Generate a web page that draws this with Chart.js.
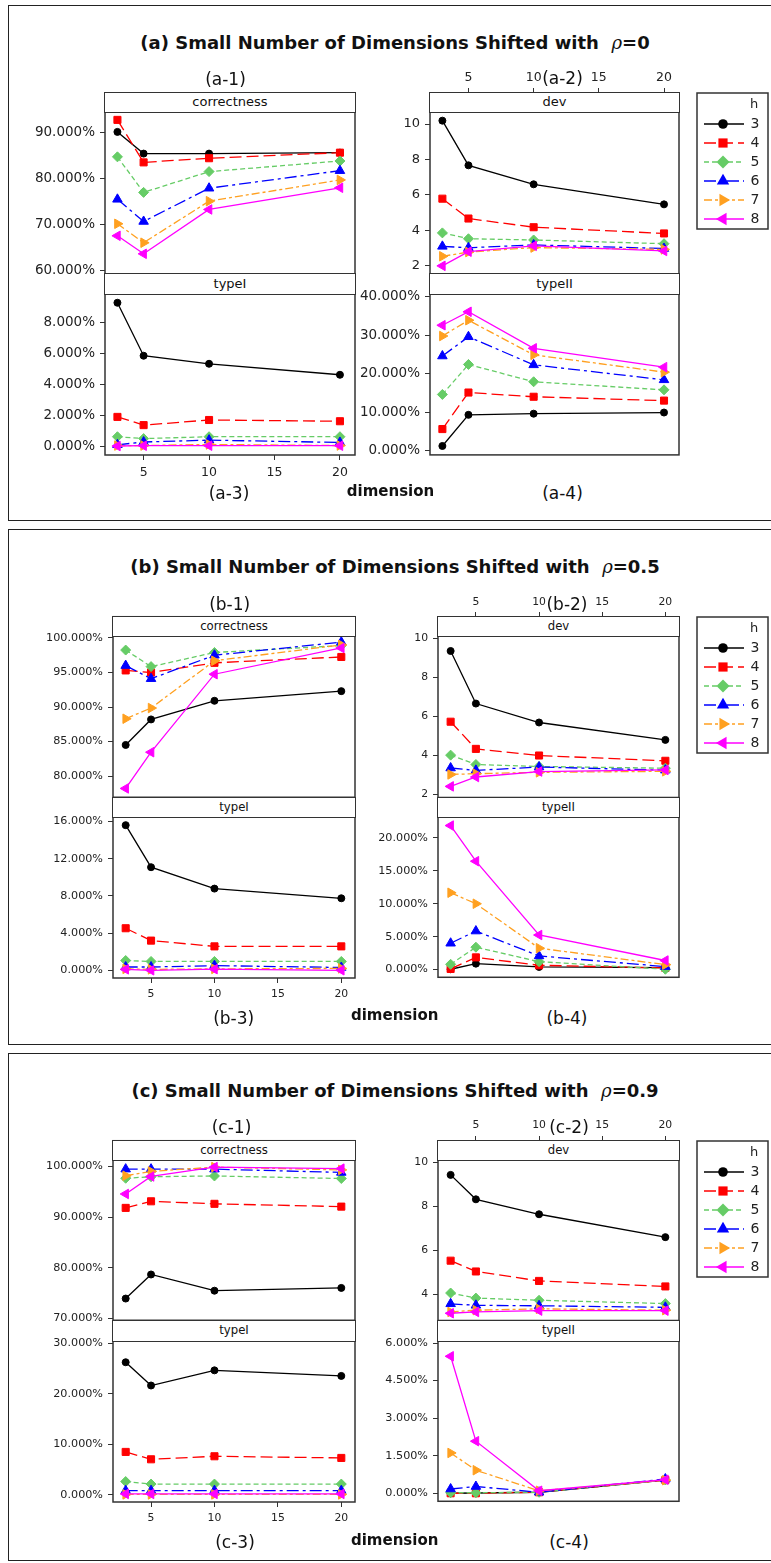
<!DOCTYPE html>
<html><head><meta charset="utf-8">
<script src="https://cdn.jsdelivr.net/npm/chart.js@4.4.1/dist/chart.umd.min.js"></script>
<style>
html,body{margin:0;padding:0;background:#fff;overflow:hidden;width:771px;height:1563px;}
body{position:relative;font-family:'DejaVu Sans',sans-serif;color:#111;}
.box{position:absolute;border:1.3px solid #222;box-sizing:border-box;}
.title{position:absolute;font-weight:bold;font-size:18px;white-space:nowrap;transform:translate(-50%,-50%);line-height:1.2;}
.rho{font-family:'DejaVu Serif',serif;font-style:italic;font-weight:normal;}
.lbl{position:absolute;white-space:nowrap;transform:translate(-50%,-50%);line-height:1.2;}
.strip{position:absolute;background:#fff;border:1.5px solid #333;box-sizing:border-box;text-align:center;overflow:hidden;}
canvas{position:absolute;}
</style></head><body>
<script>
// ---------- data ----------
const dims = [3, 5, 10, 20];
const hLevels = ['3', '4', '5', '6', '7', '8'];
const xTickVals = [5, 10, 15, 20];

// (a) rho = 0  (rows: h = 3..8, columns: dimension 3,5,10,20)
const aCorrectness = [
  [90.1, 85.4, 85.4, 85.6],
  [92.7, 83.5, 84.4, 85.6],
  [84.7, 77.0, 81.5, 83.8],
  [75.5, 70.7, 77.9, 81.7],
  [70.2, 66.1, 75.1, 79.7],
  [67.6, 63.7, 73.3, 78.0]
];
const aDev = [
  [10.19, 7.67, 6.60, 5.47],
  [5.79, 4.67, 4.18, 3.83],
  [3.86, 3.53, 3.46, 3.25],
  [3.10, 3.02, 3.18, 2.98],
  [2.54, 2.78, 3.03, 2.93],
  [2.00, 2.80, 3.13, 2.84]
];
const aTypeI = [
  [9.27, 5.85, 5.33, 4.62],
  [1.90, 1.37, 1.70, 1.62],
  [0.62, 0.50, 0.62, 0.62],
  [0.10, 0.28, 0.40, 0.25],
  [0.05, 0.05, 0.12, 0.05],
  [0.02, 0.04, 0.04, 0.04]
];
const aTypeII = [
  [1.2, 9.3, 9.6, 9.9],
  [5.6, 15.1, 14.0, 13.0],
  [14.6, 22.4, 17.9, 15.8],
  [24.6, 29.6, 22.3, 18.4],
  [29.8, 33.9, 24.9, 20.4],
  [32.6, 36.1, 26.6, 21.7]
];

// (b) rho = 0.5
const bCorrectness = [
  [84.5, 88.2, 90.9, 92.3],
  [95.3, 95.0, 96.4, 97.25],
  [98.25, 95.85, 97.9, 98.9],
  [96.0, 94.1, 97.5, 99.4],
  [88.3, 89.85, 96.7, 99.0],
  [78.2, 83.45, 94.75, 98.55]
];
const bDev = [
  [9.35, 6.66, 5.69, 4.80],
  [5.73, 4.34, 4.00, 3.73],
  [4.02, 3.54, 3.44, 3.35],
  [3.36, 3.24, 3.41, 3.25],
  [3.03, 3.07, 3.14, 3.19],
  [2.42, 2.90, 3.18, 3.26]
];
const bTypeI = [
  [15.6, 11.08, 8.78, 7.74],
  [4.52, 3.19, 2.57, 2.57],
  [1.05, 0.95, 0.95, 0.95],
  [0.35, 0.35, 0.5, 0.3],
  [0.15, 0.1, 0.15, 0.2],
  [0.1, 0.0, 0.12, 0.0]
];
const bTypeII = [
  [0.05, 0.9, 0.4, 0.3],
  [0.1, 1.85, 0.65, 0.25],
  [0.8, 3.4, 1.2, 0.05],
  [4.0, 5.85, 2.07, 0.45],
  [11.67, 10.0, 3.25, 0.75],
  [21.87, 16.46, 5.25, 1.38]
];

// (c) rho = 0.9
const cCorrectness = [
  [73.9, 78.65, 75.45, 76.0],
  [91.8, 93.1, 92.6, 92.05],
  [97.65, 97.95, 98.1, 97.6],
  [99.45, 99.45, 99.45, 98.8],
  [98.15, 99.0, 99.85, 99.3],
  [94.55, 98.0, 99.85, 99.55]
];
const cDev = [
  [9.43, 8.32, 7.64, 6.60],
  [5.53, 5.04, 4.61, 4.36],
  [4.06, 3.83, 3.73, 3.58],
  [3.57, 3.50, 3.48, 3.41],
  [3.20, 3.28, 3.34, 3.28],
  [3.14, 3.20, 3.26, 3.26]
];
const cTypeI = [
  [26.2, 21.6, 24.6, 23.5],
  [8.46, 7.0, 7.6, 7.27],
  [2.6, 2.1, 2.1, 2.1],
  [0.8, 0.8, 0.8, 0.8],
  [0.05, 0.05, 0.05, 0.05],
  [0.15, 0.15, 0.15, 0.15]
];
const cTypeII = [
  [0.0, 0.01, 0.04, 0.53],
  [0.0, 0.0, 0.04, 0.53],
  [0.02, 0.02, 0.04, 0.53],
  [0.17, 0.27, 0.04, 0.57],
  [1.61, 0.92, 0.1, 0.52],
  [5.47, 2.08, 0.1, 0.54]
];

// tick label values
const aCorrTicks = [60, 70, 80, 90];
const aDevTicks = [2, 4, 6, 8, 10];
const aTypeITicks = [0, 2, 4, 6, 8];
const aTypeIITicks = [0, 10, 20, 30, 40];
const bCorrTicks = [80, 85, 90, 95, 100];
const bDevTicks = [2, 4, 6, 8, 10];
const bTypeITicks = [0, 4, 8, 12, 16];
const bTypeIITicks = [0, 5, 10, 15, 20];
const cCorrTicks = [70, 80, 90, 100];
const cDevTicks = [4, 6, 8, 10];
const cTypeITicks = [0, 10, 20, 30];
const cTypeIITicks = [0, 1.5, 3, 4.5, 6];

// ---------- styles ----------
const FONT = "'DejaVu Sans'";
const seriesStyle = [
  {color: '#000000', dash: [], point: 'circle', rot: 0, r: 3.5},
  {color: '#ff0000', dash: [12, 5], point: 'rect', rot: 0, r: 5},
  {color: '#66cc66', dash: [5, 3], point: 'rectRot', rot: 0, r: 5},
  {color: '#0000ff', dash: [12, 4, 3, 4], point: 'triangle', rot: 0, r: 5.5},
  {color: '#ffa020', dash: [8, 3, 3, 3], point: 'triangle', rot: 90, r: 5.5},
  {color: '#ff00ff', dash: [], point: 'triangle', rot: -90, r: 5.5}
];
const pct = v => v.toFixed(3) + '%';
const num = v => String(v);

const framePlugin = {
  id: 'frame',
  afterDraw(chart) {
    const a = chart.chartArea, ctx = chart.ctx;
    ctx.save();
    ctx.strokeStyle = '#333'; ctx.lineWidth = 1.5; ctx.setLineDash([]);
    ctx.strokeRect(a.left, a.top, a.right - a.left, a.bottom - a.top);
    ctx.restore();
  }
};

function addDiv(cls, html, style) {
  const d = document.createElement('div');
  d.className = cls; d.innerHTML = html;
  Object.assign(d.style, style);
  document.body.appendChild(d);
  return d;
}

function makePanel(p) {
  const yW = 95, AX = 24, PAD = 3;
  const isTop = p.xAxis === 'top', isBot = p.xAxis === 'bottom';
  const padT = isTop ? 0 : PAD, padB = isBot ? 0 : PAD;
  const plotW = p.right - p.left, plotH = p.bottom - p.top;
  let W = yW + plotW + PAD;
  let H = padT + (isTop ? AX : 0) + plotH + (isBot ? AX : 0) + padB;
  const cv = document.createElement('canvas');
  cv.width = W; cv.height = H;
  cv.style.left = '0px'; cv.style.top = '0px';
  document.body.appendChild(cv);
  const datasets = p.data.map((row, i) => {
    const s = seriesStyle[i];
    return {
      label: 'h=' + hLevels[i],
      data: row.map((v, j) => ({x: dims[j], y: v})),
      borderColor: s.color, backgroundColor: s.color,
      borderWidth: 1.3, borderDash: s.dash,
      pointStyle: s.point, pointRotation: s.rot, pointRadius: s.r,
      pointBackgroundColor: s.color, pointBorderColor: s.color, pointBorderWidth: 1,
      tension: 0, fill: false, order: 6 - i
    };
  });
  const gridCfg = {display: true, drawOnChartArea: false, drawTicks: true, tickLength: 5, color: '#333', lineWidth: 1};
  const chart = new Chart(cv, {
    type: 'line',
    data: {datasets},
    options: {
      responsive: false, maintainAspectRatio: false, animation: false, devicePixelRatio: 1, events: [],
      layout: {autoPadding: false, padding: {left: 0, right: PAD, top: padT, bottom: padB}},
      plugins: {legend: {display: false}, tooltip: {enabled: false}},
      scales: {
        x: {
          type: 'linear', position: isTop ? 'top' : 'bottom', display: isTop || isBot,
          min: p.xMin, max: p.xMax, bounds: 'data',
          afterFit: s => { s.height = (isTop || isBot) ? AX : 0; },
          afterBuildTicks: s => { s.ticks = xTickVals.map(v => ({value: v})); },
          grid: gridCfg, border: {display: false},
          ticks: {font: {family: FONT, size: p.xFont}, color: '#222', padding: p.xPad, maxRotation: 0, autoSkip: false, callback: v => String(v)}
        },
        y: {
          type: 'linear', position: 'left', min: p.yMin, max: p.yMax, bounds: 'data',
          afterFit: s => { s.width = yW; },
          afterBuildTicks: s => { s.ticks = p.yTicks.map(v => ({value: v})); },
          grid: gridCfg, border: {display: false},
          ticks: {font: {family: FONT, size: p.yFont}, color: '#222', padding: 5, autoSkip: false, callback: v => p.fmt(v)}
        }
      }
    },
    plugins: [framePlugin]
  });
  // make the plot area exactly the wanted size
  for (let it = 0; it < 4; it++) {
    const ca = chart.chartArea;
    const dw = Math.round(plotW - (ca.right - ca.left));
    const dh = Math.round(plotH - (ca.bottom - ca.top));
    if (dw === 0 && dh === 0) break;
    W += dw; H += dh;
    chart.resize(W, H);
  }
  const ca = chart.chartArea;
  cv.style.left = (p.left - ca.left) + 'px';
  cv.style.top = (p.top - ca.top) + 'px';
  addDiv('strip', p.strip, {
    left: (p.left - 0.75) + 'px', top: (p.top - 0.75) + 'px',
    width: (plotW + 1.5) + 'px', height: (p.stripH + 1.5) + 'px',
    fontSize: p.stripFont + 'px', lineHeight: (p.stripH - 1) + 'px'
  });
}

function drawMarker(ctx, style, r, x, y) {
  ctx.beginPath();
  if (style === 'circle') {
    ctx.arc(x, y, r, 0, Math.PI * 2);
  } else if (style === 'rect') {
    const s = r * Math.SQRT1_2; ctx.rect(x - s, y - s, 2 * s, 2 * s);
  } else if (style === 'rectRot') {
    ctx.moveTo(x, y - r); ctx.lineTo(x + r, y); ctx.lineTo(x, y + r); ctx.lineTo(x - r, y); ctx.closePath();
  }
  ctx.fill();
}
function drawTri(ctx, rotDeg, r, x, y) {
  let rad = rotDeg * Math.PI / 180;
  ctx.beginPath();
  for (let k = 0; k < 3; k++) {
    const px = x + Math.sin(rad) * r, py = y - Math.cos(rad) * r;
    if (k === 0) ctx.moveTo(px, py); else ctx.lineTo(px, py);
    rad += 2 * Math.PI / 3;
  }
  ctx.closePath(); ctx.fill();
}

function drawLegend(top) {
  const ox = 690, oy = top - 5;
  const cv = document.createElement('canvas');
  cv.width = 81; cv.height = 148;
  Object.assign(cv.style, {left: ox + 'px', top: oy + 'px', width: '81px', height: '148px'});
  document.body.appendChild(cv);
  const ctx = cv.getContext('2d');
  ctx.strokeStyle = '#333'; ctx.lineWidth = 1.5;
  ctx.strokeRect(697 - ox, top - oy, 71, 136);
  ctx.fillStyle = '#222'; ctx.font = '13px ' + FONT; ctx.textAlign = 'center'; ctx.textBaseline = 'middle';
  ctx.fillText('h', 754 - ox, top + 12 - oy);
  hLevels.forEach((h, i) => {
    const y = top + 31 + i * 19 - oy, s = seriesStyle[i];
    ctx.save();
    ctx.strokeStyle = s.color; ctx.lineWidth = 1.5; ctx.setLineDash(s.dash);
    ctx.beginPath(); ctx.moveTo(704 - ox, y); ctx.lineTo(744 - ox, y); ctx.stroke();
    ctx.restore();
    ctx.fillStyle = s.color;
    if (s.point === 'triangle') drawTri(ctx, s.rot, s.r * 1.3, 723 - ox, y);
    else drawMarker(ctx, s.point, s.point === 'circle' ? 4.8 : s.r * 1.3, 723 - ox, y);
    ctx.fillStyle = '#222'; ctx.font = '14px ' + FONT;
    ctx.fillText(h, 755 - ox, y);
  });
}

// ---------- layout (positions only) ----------
const sections = [
  {
    key: 'a', box: [5, 516], titleY: 43, rho: '0',
    L: [105, 355], R: [430, 679], up: [93, 274], low: [274, 455], stripUp: 19, stripLow: 20,
    xr: [2.05, 21.15], yF: 13.5, yFd: 13, xF: 12.5, xPadTop: 3, xPadBot: 5, stripF: 13,
    panels: {
      c1: {data: aCorrectness, ticks: aCorrTicks, range: [59.35, 98.5], fmt: pct},
      c2: {data: aDev, ticks: aDevTicks, range: [1.53, 11.75], fmt: num},
      c3: {data: aTypeI, ticks: aTypeITicks, range: [-0.56, 11.12], fmt: pct},
      c4: {data: aTypeII, ticks: aTypeIITicks, range: [-1.12, 45.9], fmt: pct}
    },
    lab: {l1: [225.5, 78.5], l2: [562.5, 77.5], l3: [229, 492.5], l4: [562.5, 492.5], dim: [390.5, 491]},
    legTop: 93
  },
  {
    key: 'b', box: [529, 516], titleY: 567, rho: '0.5',
    L: [113, 355], R: [438, 679], up: [617, 798], low: [798, 978], stripUp: 19, stripLow: 19,
    xr: [2.0, 21.08], yF: 11.2, yFd: 10.8, xF: 10.8, xPadTop: 3, xPadBot: 5, stripF: 11.7,
    panels: {
      c1: {data: bCorrectness, ticks: bCorrTicks, range: [76.92, 103.08], fmt: pct},
      c2: {data: bDev, ticks: bDevTicks, range: [1.85, 11.09], fmt: num},
      c3: {data: bTypeI, ticks: bTypeITicks, range: [-0.83, 18.55], fmt: pct},
      c4: {data: bTypeII, ticks: bTypeIITicks, range: [-1.17, 26.1], fmt: pct}
    },
    lab: {l1: [229.7, 603.7], l2: [567, 603.7], l3: [233.7, 1017.5], l4: [567, 1017.5], dim: [394.7, 1015]},
    legTop: 617
  },
  {
    key: 'c', box: [1053, 508], titleY: 1091, rho: '0.9',
    L: [113, 355], R: [438, 679], up: [1141, 1321], low: [1321, 1502], stripUp: 19, stripLow: 20,
    xr: [2.0, 21.08], yF: 11.2, yFd: 10.8, xF: 10.8, xPadTop: 4, xPadBot: 5, stripF: 11.7,
    panels: {
      c1: {data: cCorrectness, ticks: cCorrTicks, range: [69.61, 105.06], fmt: pct},
      c2: {data: cDev, ticks: cDevTicks, range: [2.81, 10.97], fmt: num},
      c3: {data: cTypeI, ticks: cTypeITicks, range: [-1.45, 34.42], fmt: pct},
      c4: {data: cTypeII, ticks: cTypeIITicks, range: [-0.32, 6.89], fmt: pct}
    },
    lab: {l1: [231.5, 1127], l2: [569, 1126.5], l3: [235, 1541.5], l4: [569, 1541.5], dim: [394.7, 1539.7]},
    legTop: 1141
  }
];

sections.forEach(S => {
  addDiv('box', '', {left: '8px', top: S.box[0] + 'px', width: '800px', height: S.box[1] + 'px'});
  addDiv('title', '(' + S.key + ') Small Number of Dimensions Shifted with &nbsp;<span class="rho">ρ</span>=' + S.rho,
    {left: '395px', top: S.titleY + 'px'});
  const P = S.panels;
  const specs = [
    {k: 'c1', col: S.L, row: S.up, stripH: S.stripUp, strip: 'correctness', xAxis: null, yFont: S.yF},
    {k: 'c2', col: S.R, row: S.up, stripH: S.stripUp, strip: 'dev', xAxis: 'top', yFont: S.yFd},
    {k: 'c3', col: S.L, row: S.low, stripH: S.stripLow, strip: 'typeI', xAxis: 'bottom', yFont: S.yF},
    {k: 'c4', col: S.R, row: S.low, stripH: S.stripLow, strip: 'typeII', xAxis: null, yFont: S.yF}
  ];
  specs.forEach(sp => {
    const d = P[sp.k];
    makePanel({
      left: sp.col[0], right: sp.col[1], top: sp.row[0], bottom: sp.row[1],
      stripH: sp.stripH, strip: sp.strip, stripFont: S.stripF,
      xAxis: sp.xAxis, xMin: S.xr[0], xMax: S.xr[1], xFont: S.xF,
      xPad: sp.xAxis === 'top' ? S.xPadTop : S.xPadBot,
      yMin: d.range[0], yMax: d.range[1], yTicks: d.ticks, fmt: d.fmt, yFont: sp.yFont,
      data: d.data
    });
  });
  const lb = S.lab;
  [['l1', '-1'], ['l2', '-2'], ['l3', '-3'], ['l4', '-4']].forEach(([k, suf]) => {
    addDiv('lbl', '(' + S.key + suf + ')', {left: lb[k][0] + 'px', top: lb[k][1] + 'px', fontSize: '17px'});
  });
  addDiv('lbl', 'dimension', {left: lb.dim[0] + 'px', top: lb.dim[1] + 'px', fontSize: '15px', fontWeight: 'bold'});
  drawLegend(S.legTop);
});
</script>
</body></html>
